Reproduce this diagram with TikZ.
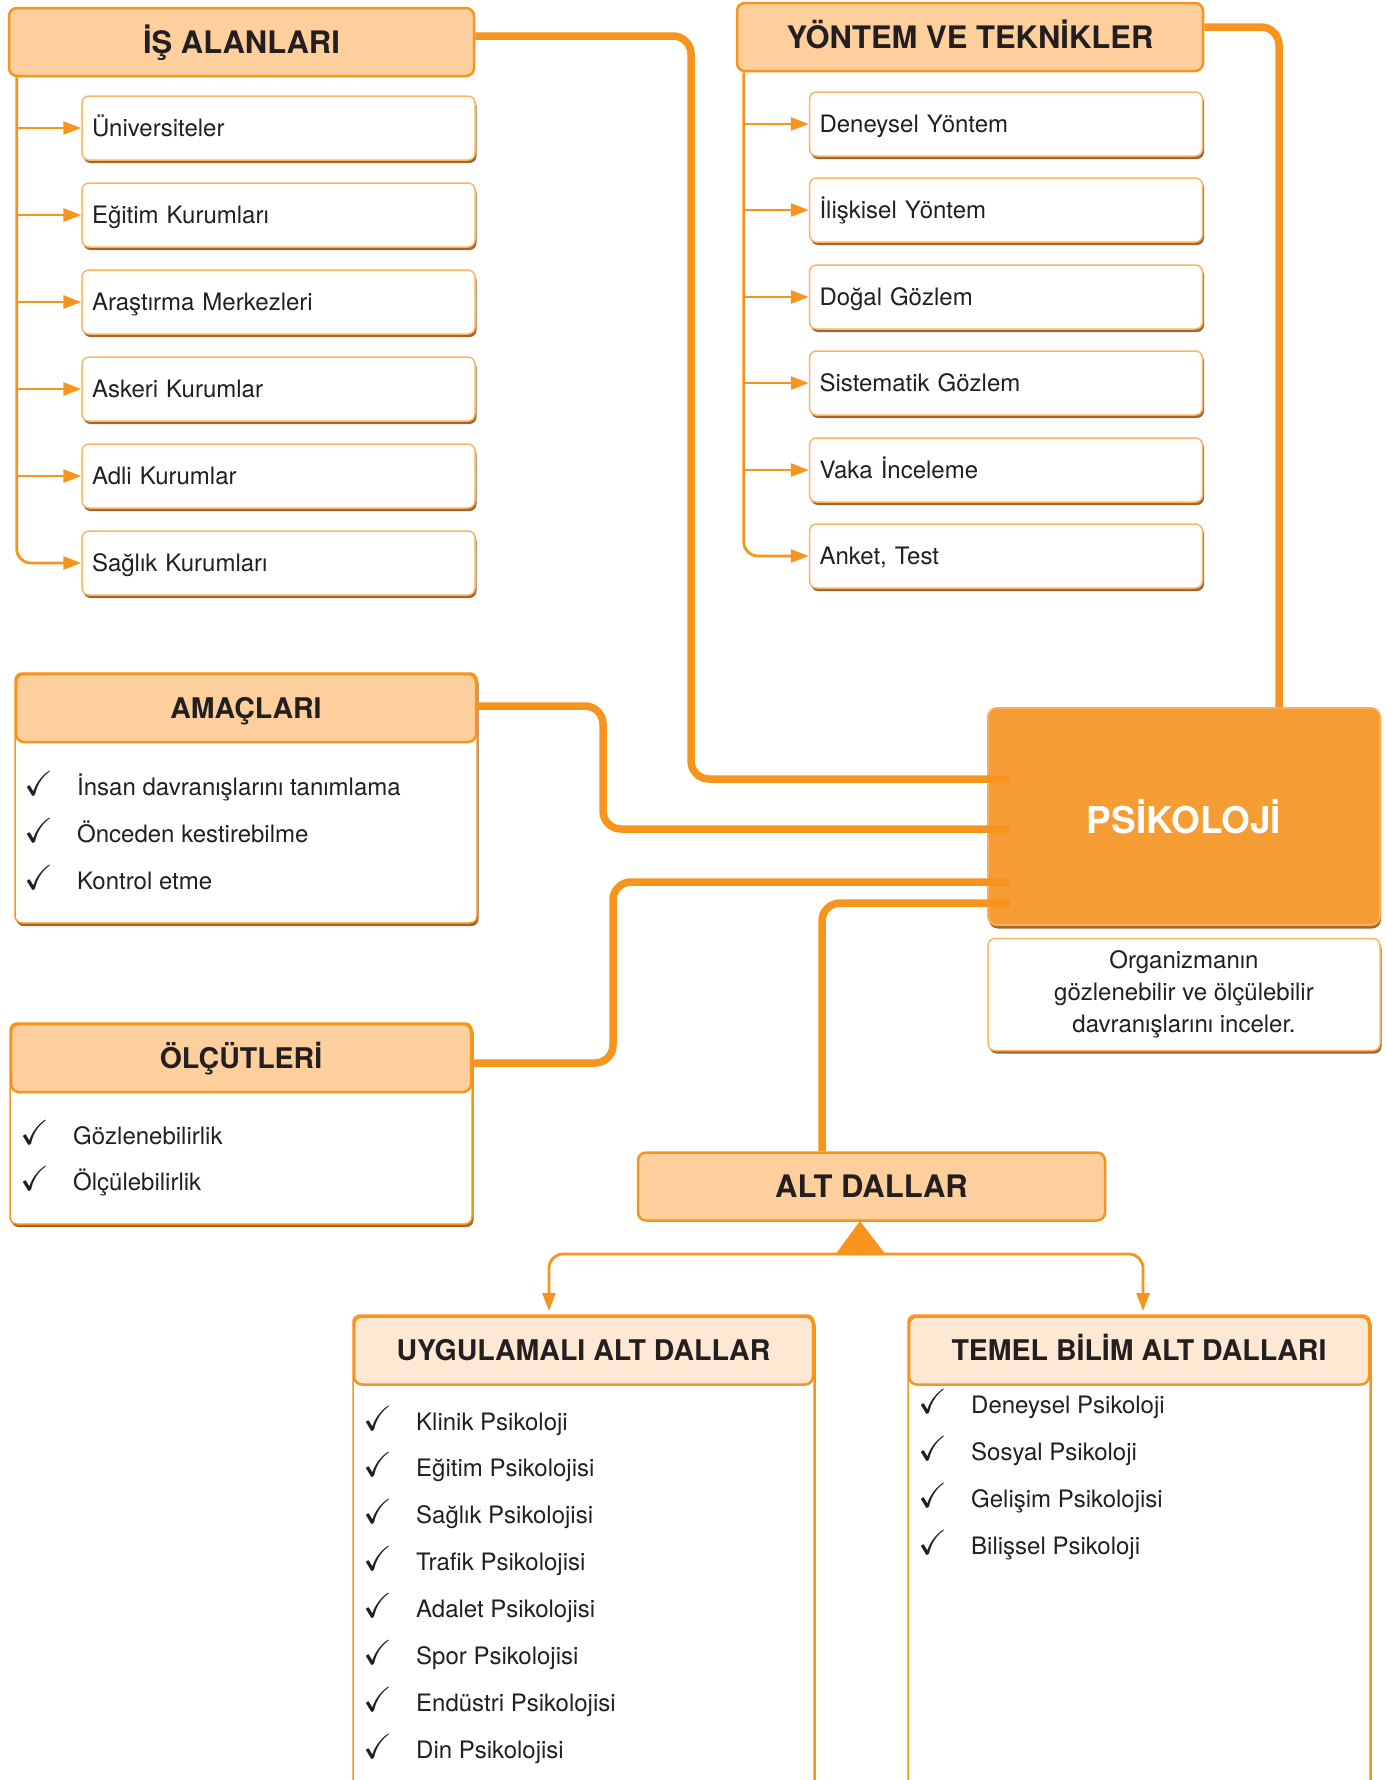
\documentclass[tikz,border=0pt]{standalone}
\usepackage{amssymb}
\usepackage{graphicx}
\usepackage{fontspec}
\setmainfont{TeX Gyre Heros}
\usetikzlibrary{arrows.meta,shadows}

\definecolor{orline}{HTML}{F7941D}
\definecolor{orpeach}{HTML}{FDCF9C}
\definecolor{orpale}{HTML}{FDE9D3}
\definecolor{orsoft}{HTML}{F9B466}
\definecolor{orfill}{HTML}{F69C34}
\definecolor{orglow}{HTML}{F8AE5A}
\definecolor{shbrown}{HTML}{A5642A}
\definecolor{textdark}{HTML}{231F20}

\newcommand{\tickmark}{\makebox[53pt][l]{\scalebox{1.45}{$\checkmark$}}}

\begin{document}
\begin{tikzpicture}[
  x=1pt, y=-1pt,
  every node/.style={text=textdark},
  head/.style={rectangle, rounded corners=8pt, draw=orline, line width=2.5pt, fill=orpeach, minimum height=68pt, text height=22pt, text depth=0pt, font=\bfseries\fontsize{31}{36}\selectfont},
  subhead/.style={head, font=\bfseries\fontsize{28.5}{34}\selectfont, text height=20.5pt},
  card/.style={rectangle, rounded corners=7pt, draw=orsoft, line width=1.5pt, fill=white, drop shadow={shadow xshift=1.5pt, shadow yshift=-3pt, fill=shbrown, opacity=1}},
  item/.style={card, minimum height=64pt, text width=373pt, inner xsep=10pt, align=left, text height=17.5pt, text depth=0pt, font=\fontsize{24}{30}\selectfont},
  panel/.style={card, draw=orline, inner sep=0pt},
  listline/.style={anchor=west, inner sep=0pt, text height=17.5pt, text depth=0pt, font=\fontsize{24}{30}\selectfont},
  core/.style={rectangle, rounded corners=9pt, fill=orfill, draw=orglow, line width=2pt, minimum width=392pt, minimum height=217pt, text=white, font=\bfseries\fontsize{37}{44}\selectfont, drop shadow={shadow xshift=1pt, shadow yshift=-3.5pt, fill=shbrown, opacity=1}},
  link/.style={draw=orline, line width=7.5pt, rounded corners=18pt},
  feed/.style={draw=orline, line width=2.8pt, -{Triangle[length=18pt,width=13pt]}}
]
\useasboundingbox (0,0) rectangle (1386,1780);
\clip (0,0) rectangle (1386,1780);

\node[head, minimum width=465pt] (isHead) at (241.5,42) {İŞ ALANLARI};
\node[item] (is1) at (278.5,128) {Üniversiteler};
\node[item] (is2) at (278.5,215) {Eğitim Kurumları};
\node[item] (is3) at (278.5,302) {Araştırma Merkezleri};
\node[item] (is4) at (278.5,389) {Askeri Kurumlar};
\node[item] (is5) at (278.5,476) {Adli Kurumlar};
\node[item] (is6) at (278.5,563) {Sağlık Kurumları};

\node[head, minimum width=466pt] (yonHead) at (970,37) {YÖNTEM VE TEKNİKLER};
\node[item] (yon1) at (1006,124) {Deneysel Yöntem};
\node[item] (yon2) at (1006,210) {İlişkisel Yöntem};
\node[item] (yon3) at (1006,297) {Doğal Gözlem};
\node[item] (yon4) at (1006,383) {Sistematik Gözlem};
\node[item] (yon5) at (1006,470) {Vaka İnceleme};
\node[item] (yon6) at (1006,556) {Anket, Test};

\coordinate (isSpine) at ([xshift=9pt]isHead.south west);
\coordinate (yonSpine) at ([xshift=8pt]yonHead.south west);
\draw[feed, rounded corners=14pt] (isSpine) |- (is6.west);
\draw[feed] (isSpine |- is1.west) -- (is1.west);
\draw[feed] (isSpine |- is2.west) -- (is2.west);
\draw[feed] (isSpine |- is3.west) -- (is3.west);
\draw[feed] (isSpine |- is4.west) -- (is4.west);
\draw[feed] (isSpine |- is5.west) -- (is5.west);
\draw[feed, rounded corners=14pt] (yonSpine) |- (yon6.west);
\draw[feed] (yonSpine |- yon1.west) -- (yon1.west);
\draw[feed] (yonSpine |- yon2.west) -- (yon2.west);
\draw[feed] (yonSpine |- yon3.west) -- (yon3.west);
\draw[feed] (yonSpine |- yon4.west) -- (yon4.west);
\draw[feed] (yonSpine |- yon5.west) -- (yon5.west);

\node[panel, minimum width=462pt, minimum height=250pt] (amBox) at (246,798) {};
\node[subhead, minimum width=460pt] (amHead) at (246,708) {AMAÇLARI};
\node[listline] (am1) at (24,787) {\tickmark İnsan davranışlarını tanımlama};
\node[listline] (am2) at (24,834) {\tickmark Önceden kestirebilme};
\node[listline] (am3) at (24,881) {\tickmark Kontrol etme};

\node[panel, minimum width=462pt, minimum height=201pt] (olBox) at (241,1123.5) {};
\node[subhead, minimum width=460pt] (olHead) at (241,1058) {ÖLÇÜTLERİ};
\node[listline] (ol1) at (20,1136) {\tickmark Gözlenebilirlik};
\node[listline] (ol2) at (20,1182) {\tickmark Ölçülebilirlik};

\node[core] (psi) at (1184,816.5) {PSİKOLOJİ};
\node[card, minimum width=392pt, minimum height=112pt, align=center, font=\fontsize{24}{32}\selectfont] (psiNote) at (1184,994.5) {Organizmanın\\gözlenebilir ve ölçülebilir\\davranışlarını inceler.};

\node[head, minimum width=467pt] (alt) at (871.5,1186.5) {ALT DALLAR};

\coordinate (psiA) at (1010,779);
\coordinate (psiB) at (1010,829);
\coordinate (psiC) at (1010,882);
\coordinate (psiD) at (1010,903);
\draw[link] ([yshift=6pt]isHead.east) -| (691,779) -- (psiA);
\draw[link] ([yshift=10pt]yonHead.east) -| ([xshift=95pt]psi.north);
\draw[link] ([yshift=2pt]amHead.east) -| (603,829) -- (psiB);
\draw[link] ([yshift=-5pt]olHead.east) -| (613,882) -- (psiC);
\draw[link] (psiD) -| ([xshift=-49.5pt]alt.north);

\fill[orline] (860,1221) -- (835,1255) -- (886,1255) -- cycle;
\coordinate (fork) at (860,1254);
\coordinate (uyIn) at (549,1311);
\coordinate (teIn) at (1143,1311);
\draw[feed, rounded corners=14pt] (fork) -| (uyIn);
\draw[feed, rounded corners=14pt] (fork) -| (teIn);

\node[panel, minimum width=461pt, minimum height=500pt] (uyBox) at (583.5,1565) {};
\node[subhead, fill=orpale, minimum width=459pt] (uyHead) at (583.5,1350.5) {UYGULAMALI ALT DALLAR};
\node[listline] (uy1) at (363,1422) {\tickmark Klinik Psikoloji};
\node[listline] (uy2) at (363,1468) {\tickmark Eğitim Psikolojisi};
\node[listline] (uy3) at (363,1515) {\tickmark Sağlık Psikolojisi};
\node[listline] (uy4) at (363,1562) {\tickmark Trafik Psikolojisi};
\node[listline] (uy5) at (363,1609) {\tickmark Adalet Psikolojisi};
\node[listline] (uy6) at (363,1656) {\tickmark Spor Psikolojisi};
\node[listline] (uy7) at (363,1703) {\tickmark Endüstri Psikolojisi};
\node[listline] (uy8) at (363,1750) {\tickmark Din Psikolojisi};

\node[panel, minimum width=462pt, minimum height=500pt] (teBox) at (1139,1565) {};
\node[subhead, fill=orpale, minimum width=460pt] (teHead) at (1139,1350.5) {TEMEL BİLİM ALT DALLARI};
\node[listline] (te1) at (918,1405) {\tickmark Deneysel Psikoloji};
\node[listline] (te2) at (918,1452) {\tickmark Sosyal Psikoloji};
\node[listline] (te3) at (918,1499) {\tickmark Gelişim Psikolojisi};
\node[listline] (te4) at (918,1546) {\tickmark Bilişsel Psikoloji};

\end{tikzpicture}
\end{document}
